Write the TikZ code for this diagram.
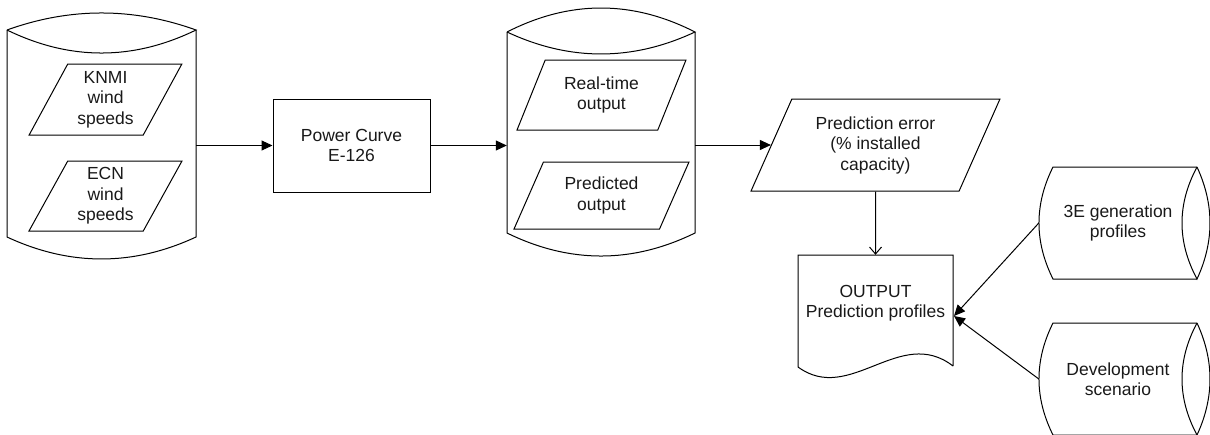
\documentclass[tikz,border=0pt]{standalone}
\usepackage{fontspec}
\setmainfont{Liberation Sans}
\usetikzlibrary{shapes.geometric,arrows.meta,calc}
\begin{document}
\begin{tikzpicture}[x=1pt,y=-1pt,
  every node/.style={font=\fontsize{17.5}{20.5}\selectfont, align=center, inner sep=0pt, text=black!90},
  outline/.style={draw=black, line width=1pt},
  para/.style={outline, trapezium, trapezium left angle=63, trapezium right angle=117, trapezium stretches=true},
  box/.style={outline, rectangle},
  area/.style={rectangle, minimum width=#1},
  arr/.style={line width=1pt, -{Triangle[length=11pt,width=10pt]}},
  openarr/.style={line width=1pt, -{Straight Barb[length=7pt,width=12pt]}}]
\useasboundingbox (0,0) rectangle (1210,434);

% wind speed database
\node[area=189pt, minimum height=246pt] (src) at (101.5,136) {};
\draw[outline] (7,30) .. controls (70,7.3) and (133,7.3) .. (196,30)
  .. controls (133,60.7) and (70,60.7) .. (7,30);
\draw[outline] (7,30) -- (7,237) .. controls (70,266.3) and (133,266.3) .. (196,237) -- (196,30);
\node[para, minimum width=153pt, minimum height=71pt] (knmi) at (105.5,99.5) {KNMI\\wind\\speeds};
\node[para, minimum width=153pt, minimum height=70pt] (ecn) at (105.5,196) {ECN\\wind\\speeds};

% power curve
\node[box, minimum width=157pt, minimum height=93pt] (pc) at (351.5,145.5) {Power Curve\\E-126};

% output database
\node[area=188pt, minimum height=248pt] (db) at (601,132) {};
\draw[outline] (507,32) .. controls (569.7,0) and (632.3,0) .. (695,32)
  .. controls (632.3,61.3) and (569.7,61.3) .. (507,32);
\draw[outline] (507,32) -- (507,233) .. controls (569.7,263.7) and (632.3,263.7) .. (695,233) -- (695,32);
\node[para, minimum width=169pt, minimum height=70pt] (rt) at (601.5,95) {Real-time\\output};
\node[para, minimum width=175pt, minimum height=67pt] (pr) at (601.5,195.5) {Predicted\\output};

% prediction error
\node[para, minimum width=249pt, minimum height=92pt] (err) at (875.5,145) {Prediction error\\(\% installed\\capacity)};

% output document
\node[area=155pt, minimum height=111pt] (out) at (875.5,310.5) {};
\draw[outline] (953,366) -- (953,255) -- (798,255) -- (798,367)
  .. controls (850,405) and (900,325) .. (953,366);
\node (outlbl) at (875.5,303) {OUTPUT\\Prediction profiles};

% stored profiles
\node[area=158pt, minimum height=112pt] (gen) at (1118,223) {3E generation\\profiles};
\draw[outline] (1197,167) -- (1053,167) .. controls (1034.3,204.3) and (1034.3,241.7) .. (1053,279) -- (1197,279);
\draw[outline] (1197,167) .. controls (1177,204.3) and (1177,241.7) .. (1197,279)
  .. controls (1214.3,241.7) and (1214.3,204.3) .. (1197,167);
\node[area=158pt, minimum height=112pt] (dev) at (1118,379) {Development\\scenario};
\draw[outline] (1197,323) -- (1053,323) .. controls (1034.3,360.3) and (1034.3,397.7) .. (1053,435) -- (1197,435);
\draw[outline] (1197,323) .. controls (1177,360.3) and (1177,397.7) .. (1197,435)
  .. controls (1214.3,397.7) and (1214.3,360.3) .. (1197,323);

% connectors
\coordinate (outin) at (954,316);
\draw[arr] (src.east |- pc.west) -- (pc.west);
\draw[arr] (pc.east) -- (db.west |- pc.east);
\draw[arr] (db.east |- err.west) -- (err.west);
\draw[openarr] (err.south) -- (out.north);
\draw[arr] (gen.west) -- (outin);
\draw[arr] (dev.west) -- (outin);
\end{tikzpicture}
\end{document}
